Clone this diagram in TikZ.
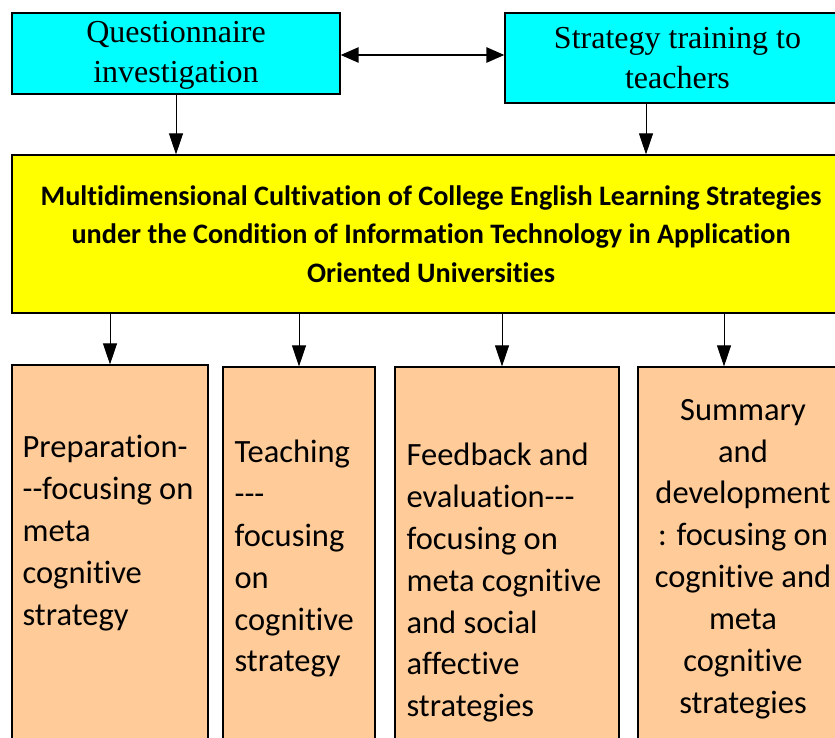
\documentclass[tikz,border=0pt]{standalone}
\usepackage{fontspec}
\setmainfont{Liberation Serif}
\newfontfamily\calfont[Ligatures=NoCommon]{Carlito}
\usetikzlibrary{arrows.meta,calc}
\definecolor{cyanbox}{RGB}{0,255,255}
\definecolor{yelbox}{RGB}{255,255,0}
\definecolor{peach}{RGB}{255,204,153}
\tikzset{
  box/.style={draw=black, line width=1.2pt, inner sep=0pt},
  topbox/.style={box, fill=cyanbox, font=\fontsize{32}{40}\selectfont, align=center},
  lowbox/.style={box, fill=peach},
  lowtext/.style={inner sep=0pt, font=\calfont\fontsize{32.5}{41.9}\selectfont},
  arr/.style={line width=0.9pt, -{Triangle[length=21pt,width=14pt]}},
  dbl/.style={line width=2.6pt, {Triangle[length=18pt,width=15pt]}-{Triangle[length=18pt,width=15pt]}}
}
\begin{document}
\begin{tikzpicture}[x=1pt,y=-1pt]
\useasboundingbox (0,0) rectangle (835,738);
\clip (0,0) rectangle (835,738);
\node[topbox, minimum width=328pt, minimum height=81pt, text depth=3pt] (q) at (176,53.5) {Questionnaire\\investigation};
\node[topbox, minimum width=345pt, minimum height=90pt] (s) at (677.5,58) {Strategy training to\\teachers};
\node[box, fill=yelbox, minimum width=838pt, minimum height=158pt, align=center,
      font=\calfont\bfseries\fontsize{28.2}{38.5}\selectfont] (y) at (431,234)
  {Multidimensional Cultivation of College English Learning Strategies\\under the Condition of Information Technology in Application\\Oriented Universities};
\node[lowbox, minimum width=196pt, minimum height=395pt] (b1) at (110,562.5) {};
\node[lowbox, minimum width=152pt, minimum height=393pt] (b2) at (299,563.5) {};
\node[lowbox, minimum width=224pt, minimum height=393pt] (b3) at (507,563.5) {};
\node[lowbox, minimum width=212pt, minimum height=393pt] (b4) at (744,563.5) {};
\node[lowtext, anchor=base west, align=left] (t1) at ($(b1.north west)+(11,260.6)$) {Preparation-\\--focusing on\\meta\\cognitive\\strategy};
\node[lowtext, anchor=base west, align=left] (t2) at ($(b2.north west)+(12,305.5)$) {Teaching\\---\\focusing\\on\\cognitive\\strategy};
\node[lowtext, anchor=base west, align=left] (t3) at ($(b3.north west)+(12,350.4)$) {Feedback and\\evaluation---\\focusing on\\meta cognitive\\and social\\affective\\strategies};
\node[lowtext, anchor=base, align=center] (t4) at ($(b4.north)+(-1,347)$) {Summary\\and\\development\\: focusing on\\cognitive and\\meta\\cognitive\\strategies};
\draw[dbl] (q.east |- 0,55) -- (s.west |- 0,55);
\draw[arr] (q.south) -- (q.south |- y.north);
\draw[arr] (646,0 |- s.south) -- (646,0 |- y.north);
\draw[arr] (b1.north |- y.south) -- (b1.north);
\draw[arr] (b2.north |- y.south) -- (b2.north);
\draw[arr] (502,0 |- y.south) -- (502,0 |- b3.north);
\draw[arr] (724,0 |- y.south) -- (724,0 |- b4.north);
\end{tikzpicture}
\end{document}
